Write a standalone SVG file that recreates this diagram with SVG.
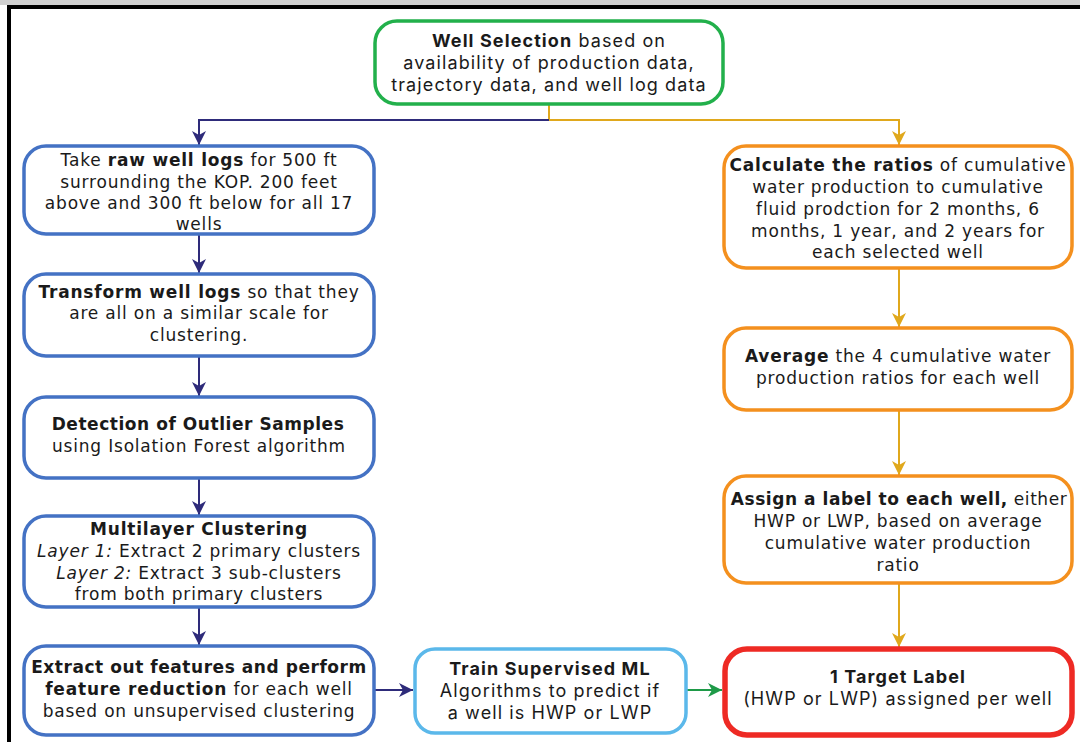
<svg xmlns="http://www.w3.org/2000/svg" width="1080" height="742" viewBox="0 0 1080 742">
<defs>
<style>
.t{font-family:"DejaVu Sans","Liberation Sans",sans-serif;font-size:17px;letter-spacing:0.8px;fill:#1a1a1a;text-anchor:middle}
.n{font-family:Inter,"Liberation Sans",sans-serif;font-size:18px;letter-spacing:1.1px;fill:#1a1a1a;text-anchor:middle}
.b{font-weight:bold}
.i{font-style:italic}
.tight{letter-spacing:0.55px}
.blue{fill:#fff;stroke:#4472c4;stroke-width:3.5}
.org{fill:#fff;stroke:#f4901e;stroke-width:3.5}
.nv{stroke:#2e2b7a;stroke-width:2;fill:none}
.gd{stroke:#e0a81c;stroke-width:2;fill:none}
.gr{stroke:#1e9a48;stroke-width:2;fill:none}
</style>
<marker id="aN" markerUnits="userSpaceOnUse" markerWidth="14" markerHeight="14" viewBox="0 0 14 14" refX="14" refY="7" orient="auto"><path d="M0,0 L14,7 L0,14 L4,7 Z" fill="#2e2b7a"/></marker>
<marker id="aG" markerUnits="userSpaceOnUse" markerWidth="14" markerHeight="14" viewBox="0 0 14 14" refX="14" refY="7" orient="auto"><path d="M0,0 L14,7 L0,14 L4,7 Z" fill="#e0a81c"/></marker>
<marker id="aR" markerUnits="userSpaceOnUse" markerWidth="14" markerHeight="14" viewBox="0 0 14 14" refX="14" refY="7" orient="auto"><path d="M0,0 L14,7 L0,14 L4,7 Z" fill="#1e9a48"/></marker>
</defs>
<rect x="0" y="0" width="1080" height="742" fill="#fff"/>
<rect x="0" y="0" width="1080" height="5" fill="#d0d0d0"/>
<path d="M9,760 V7 H1090" fill="none" stroke="#000" stroke-width="4"/>

<g id="connectors">
<path class="gd" d="M549,104 V120 H899 V145" marker-end="url(#aG)"/>
<path class="nv" d="M549,120 H199 V145" marker-end="url(#aN)"/>
<path class="nv" d="M199,234 V273" marker-end="url(#aN)"/>
<path class="nv" d="M199,356 V396" marker-end="url(#aN)"/>
<path class="nv" d="M199,478 V515" marker-end="url(#aN)"/>
<path class="nv" d="M199,607 V645" marker-end="url(#aN)"/>
<path class="gd" d="M899,268 V327" marker-end="url(#aG)"/>
<path class="gd" d="M899,410 V475" marker-end="url(#aG)"/>
<path class="gd" d="M899,583 V647" marker-end="url(#aG)"/>
<path class="nv" d="M374,690 H413" marker-end="url(#aN)"/>
<path class="gr" d="M686,690 H722" marker-end="url(#aR)"/>
</g>

<g id="well-selection">
<rect x="375" y="21" width="348" height="83" rx="22" fill="#fff" stroke="#22b04b" stroke-width="3.5"/>
<text class="n" x="549" y="47"><tspan class="b">Well Selection</tspan> based on</text>
<text class="n" x="549" y="69">availability of production data,</text>
<text class="n" x="549" y="91">trajectory data, and well log data</text>
</g>

<g id="raw-logs">
<rect class="blue" x="24" y="146" width="350" height="88" rx="22"/>
<text class="t" x="199" y="166">Take <tspan class="b">raw well logs</tspan> for 500 ft</text>
<text class="t" x="199" y="188">surrounding the KOP. 200 feet</text>
<text class="t" x="199" y="209">above and 300 ft below for all 17</text>
<text class="t" x="199" y="230">wells</text>
</g>

<g id="transform">
<rect class="blue" x="24" y="274" width="350" height="82" rx="22"/>
<text class="t" x="199" y="298"><tspan class="b">Transform well logs</tspan> so that they</text>
<text class="t" x="199" y="319">are all on a similar scale for</text>
<text class="t" x="199" y="341">clustering.</text>
</g>

<g id="outlier">
<rect class="blue" x="24" y="397" width="350" height="81" rx="22"/>
<text class="t b tight" x="198" y="430">Detection of Outlier Samples</text>
<text class="t" x="199" y="452">using Isolation Forest algorithm</text>
</g>

<g id="clustering">
<rect class="blue" x="24" y="516" width="350" height="91" rx="22"/>
<text class="t b" x="199" y="535">Multilayer Clustering</text>
<text class="t" x="199" y="557"><tspan class="i">Layer 1:</tspan> Extract 2 primary clusters</text>
<text class="t" x="199" y="579"><tspan class="i">Layer 2:</tspan> Extract 3 sub-clusters</text>
<text class="t" x="199" y="600">from both primary clusters</text>
</g>

<g id="features">
<rect class="blue" x="24" y="646" width="350" height="89" rx="22"/>
<text class="t b tight" x="199" y="673">Extract out features and perform</text>
<text class="t" x="199" y="695"><tspan class="b">feature reduction</tspan> for each well</text>
<text class="t" x="199" y="717">based on unsupervised clustering</text>
</g>

<g id="train">
<rect x="415" y="649" width="271" height="84" rx="20" fill="#fff" stroke="#5bb8ea" stroke-width="3.5"/>
<text class="n b" x="550" y="675">Train Supervised ML</text>
<text class="n" x="550" y="697">Algorithms to predict if</text>
<text class="n" x="550" y="719">a well is HWP or LWP</text>
</g>

<g id="ratios">
<rect class="org" x="724" y="146" width="348" height="122" rx="22"/>
<text class="t" x="898" y="171"><tspan class="b">Calculate the ratios</tspan> of cumulative</text>
<text class="t" x="898" y="193">water production to cumulative</text>
<text class="t" x="898" y="215">fluid prodction for 2 months, 6</text>
<text class="t" x="898" y="237">months, 1 year, and 2 years for</text>
<text class="t" x="898" y="258">each selected well</text>
</g>

<g id="average">
<rect class="org" x="724" y="328" width="348" height="82" rx="22"/>
<text class="t" x="898" y="362"><tspan class="b">Average</tspan> the 4 cumulative water</text>
<text class="t" x="898" y="384">production ratios for each well</text>
</g>

<g id="assign">
<rect class="org" x="724" y="476" width="348" height="107" rx="22"/>
<text class="t tight" x="899" y="505"><tspan class="b">Assign a label to each well,</tspan> either</text>
<text class="t" x="898" y="527">HWP or LWP, based on average</text>
<text class="t" x="898" y="549">cumulative water production</text>
<text class="t" x="898" y="571">ratio</text>
</g>

<g id="target">
<rect x="725" y="649" width="347" height="86" rx="22" fill="#fff" stroke="#ee2a24" stroke-width="5.5"/>
<text class="n b" x="898" y="683">1 Target Label</text>
<text class="n" x="898" y="705">(HWP or LWP) assigned per well</text>
</g>
</svg>
